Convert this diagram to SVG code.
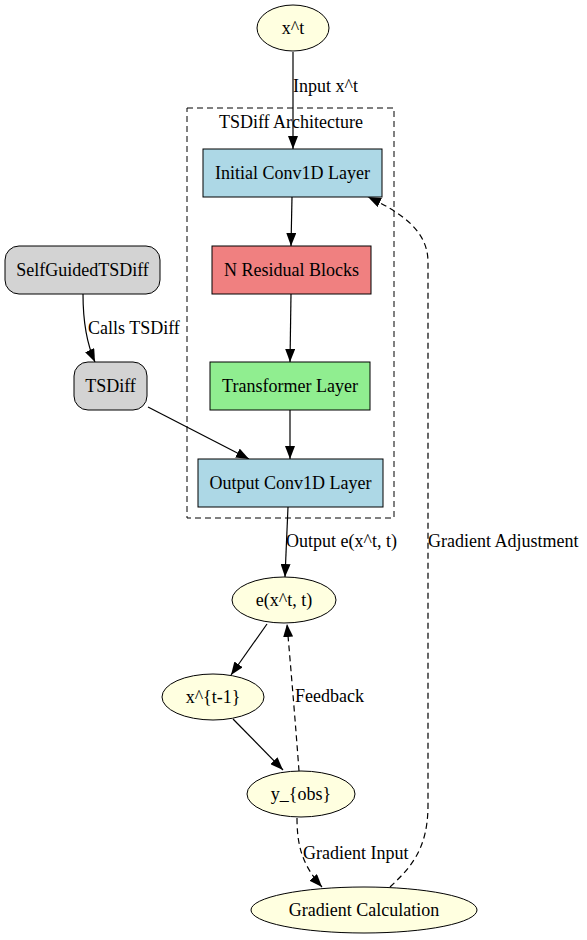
<svg xmlns="http://www.w3.org/2000/svg" width="587" height="940" viewBox="0 0 587 940">
<style>
text{font-family:"Liberation Serif","Times New Roman",serif;font-size:18px;fill:#000}
.c{text-anchor:middle}
.n{stroke:#000;stroke-width:1}
.e{fill:none;stroke:#000;stroke-width:1.2}
.d{stroke-dasharray:6,4}
</style>
<defs>
<marker id="ah" viewBox="0 0 13 10" refX="13" refY="5" markerWidth="13" markerHeight="10" orient="auto" markerUnits="userSpaceOnUse">
<path d="M0,0 L13,5 L0,10 z" fill="#000"/>
</marker>
</defs>
<rect width="587" height="940" fill="#fff"/>
<g id="cluster">
<rect x="187" y="108" width="207" height="410" fill="none" stroke="#000" stroke-dasharray="6,4"/>
<text class="c" x="291" y="128">TSDiff Architecture</text>
</g>
<g id="connectors">
<path class="e" d="M293,52 L293,149" marker-end="url(#ah)"/>
<text x="293" y="92">Input x^t</text>
<path class="e" d="M292,197 L291,246" marker-end="url(#ah)"/>
<path class="e" d="M291,294 L290,362" marker-end="url(#ah)"/>
<path class="e" d="M290,410 L290,459" marker-end="url(#ah)"/>
<path class="e" d="M83,294 C83,320 86,342 95,362" marker-end="url(#ah)"/>
<text x="88" y="334">Calls TSDiff</text>
<path class="e" d="M148,407 L249,459" marker-end="url(#ah)"/>
<path class="e" d="M288,507 L285,577" marker-end="url(#ah)"/>
<text x="286" y="547">Output e(x^t, t)</text>
<path class="e" d="M267,624 L231,675" marker-end="url(#ah)"/>
<path class="e" d="M233,719 L283,770" marker-end="url(#ah)"/>
<path class="e d" d="M299,771 C296,730 291,670 287,624" marker-end="url(#ah)"/>
<text x="295" y="702">Feedback</text>
<path class="e d" d="M297,818 C297,845 302,865 322,887" marker-end="url(#ah)"/>
<text x="303" y="859">Gradient Input</text>
<path class="e d" d="M390,887 C410,868 428,850 428,805 L428,262 C428,230 400,212 368,197" marker-end="url(#ah)"/>
<text x="428" y="547">Gradient Adjustment</text>
</g>
<g id="xt">
<ellipse class="n" cx="293" cy="28" rx="36" ry="23" fill="#ffffe0"/>
<text class="c" x="293" y="34">x^t</text>
</g>
<g id="initial">
<rect class="n" x="203" y="149" width="179" height="48" fill="#add8e6"/>
<text class="c" x="292.5" y="179">Initial Conv1D Layer</text>
</g>
<g id="residual">
<rect class="n" x="212" y="246" width="159" height="48" fill="#f08080"/>
<text class="c" x="291.5" y="276">N Residual Blocks</text>
</g>
<g id="transformer">
<rect class="n" x="210" y="362" width="160" height="48" fill="#90ee90"/>
<text class="c" x="290" y="392">Transformer Layer</text>
</g>
<g id="output">
<rect class="n" x="198" y="459" width="185" height="48" fill="#add8e6"/>
<text class="c" x="290.5" y="489">Output Conv1D Layer</text>
</g>
<g id="selfguided">
<rect class="n" x="5" y="246" width="155" height="48" rx="14" fill="#d3d3d3"/>
<text class="c" x="82.5" y="276">SelfGuidedTSDiff</text>
</g>
<g id="tsdiff">
<rect class="n" x="74" y="362" width="73" height="48" rx="14" fill="#d3d3d3"/>
<text class="c" x="110.5" y="392">TSDiff</text>
</g>
<g id="ext">
<ellipse class="n" cx="284" cy="600" rx="52" ry="23" fill="#ffffe0"/>
<text class="c" x="284" y="606">e(x^t, t)</text>
</g>
<g id="xt1">
<ellipse class="n" cx="213" cy="697" rx="51" ry="23" fill="#ffffe0"/>
<text class="c" x="213" y="703">x^{t-1}</text>
</g>
<g id="yobs">
<ellipse class="n" cx="301" cy="794" rx="54" ry="23" fill="#ffffe0"/>
<text class="c" x="301" y="800">y_{obs}</text>
</g>
<g id="gradcalc">
<ellipse class="n" cx="364" cy="910" rx="113" ry="23" fill="#ffffe0"/>
<text class="c" x="364" y="916">Gradient Calculation</text>
</g>
</svg>
